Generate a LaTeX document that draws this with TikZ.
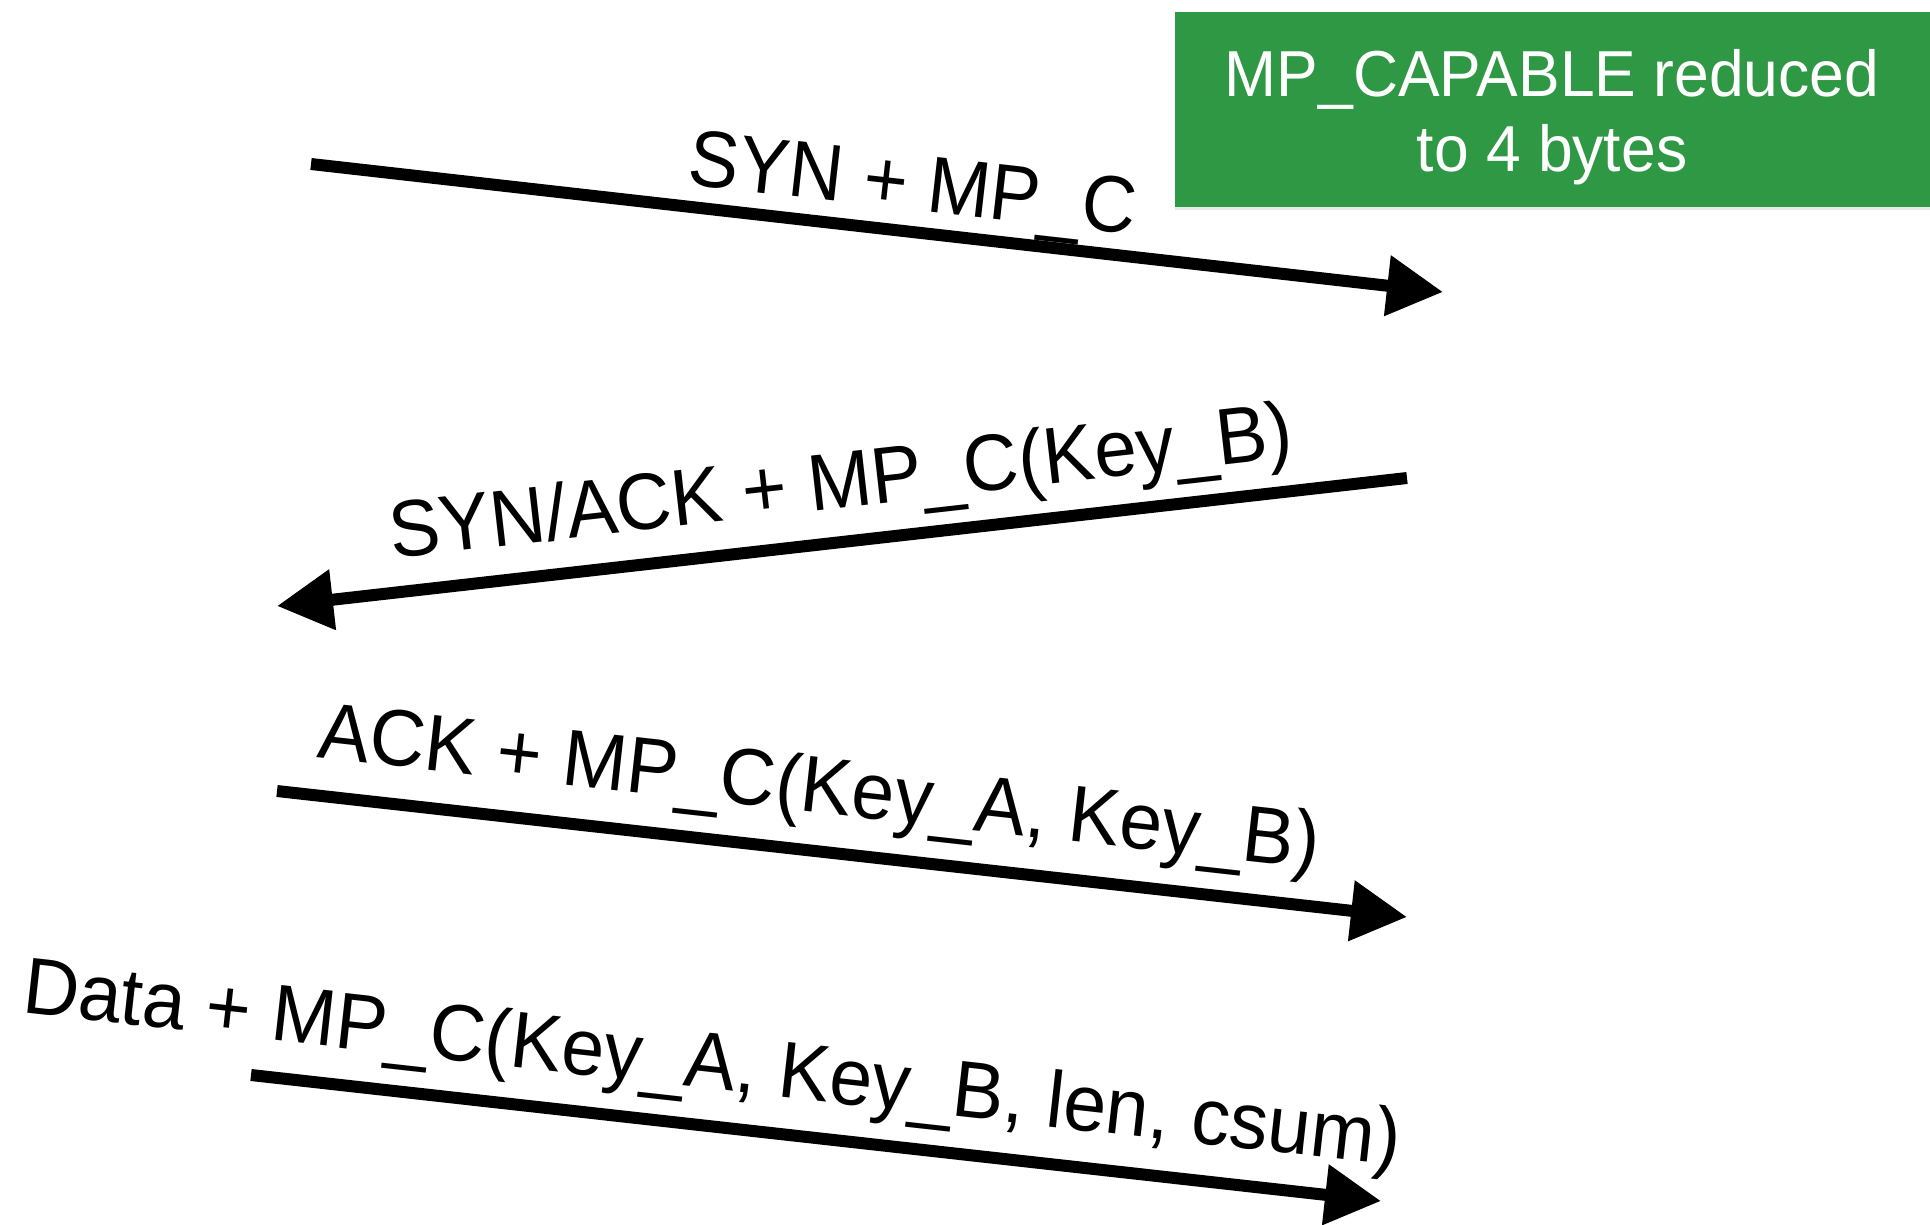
\documentclass[tikz,border=0pt]{standalone}
\usepackage{fontspec}
\usepackage{graphicx}
\setmainfont{Liberation Sans}
\usetikzlibrary{arrows.meta,shadows}

\definecolor{notegreen}{RGB}{47,152,68}

\tikzset{
  msg/.style={line width=12pt, -{Triangle[length=56pt,width=58pt]}},
  msglabel/.style={sloped, anchor=base, inner sep=0pt,
    font=\fontsize{80}{90}\selectfont},
  note/.style={fill=notegreen, draw=none,
    drop shadow={opacity=0.18, shadow xshift=0pt, shadow yshift=-3pt}},
  notetext/.style={text=white, align=center, inner sep=0pt,
    font=\fontsize{65}{75}\selectfont}
}

% horizontally condensed text
\newcommand{\narrow}[2][0.94]{\scalebox{#1}[1]{#2}}

\begin{document}
\begin{tikzpicture}[x=1pt,y=-1pt]
  \useasboundingbox (0,0) rectangle (1930,1224);

  % note box in the top right corner
  \path[note] (1175,12) rectangle (1935,207);
  \node[notetext] (noteText) at (1552,117)
    {\narrow[0.96]{MP\_CAPABLE reduced}\\\narrow[0.96]{to 4 bytes}};

  % end points of the four messages
  \coordinate (s1) at (311,164);  \coordinate (e1) at (1443,292);
  \coordinate (s2) at (1407,478); \coordinate (e2) at (277,606);
  \coordinate (s3) at (277,791);  \coordinate (e3) at (1407,917);
  \coordinate (s4) at (251,1075); \coordinate (e4) at (1381,1201);

  \draw[msg] (s1) -- node[msglabel, pos=0.527, yshift=22pt] (l1)
    {\narrow{SYN + MP\_C}} (e1);
  \draw[msg] (s2) -- node[msglabel, pos=0.495, yshift=34pt] (l2)
    {\narrow[0.953]{SYN/ACK + MP\_C(Key\_B)}} (e2);
  \draw[msg] (s3) -- node[msglabel, pos=0.474, yshift=38pt] (l3)
    {\narrow[0.962]{ACK + MP\_C(Key\_A, Key\_B)}} (e3);
  \draw[msg] (s4) -- node[msglabel, pos=0.402, yshift=37pt] (l4)
    {\narrow[0.963]{Data + MP\_C(Key\_A, Key\_B, len, csum)}} (e4);
\end{tikzpicture}
\end{document}
